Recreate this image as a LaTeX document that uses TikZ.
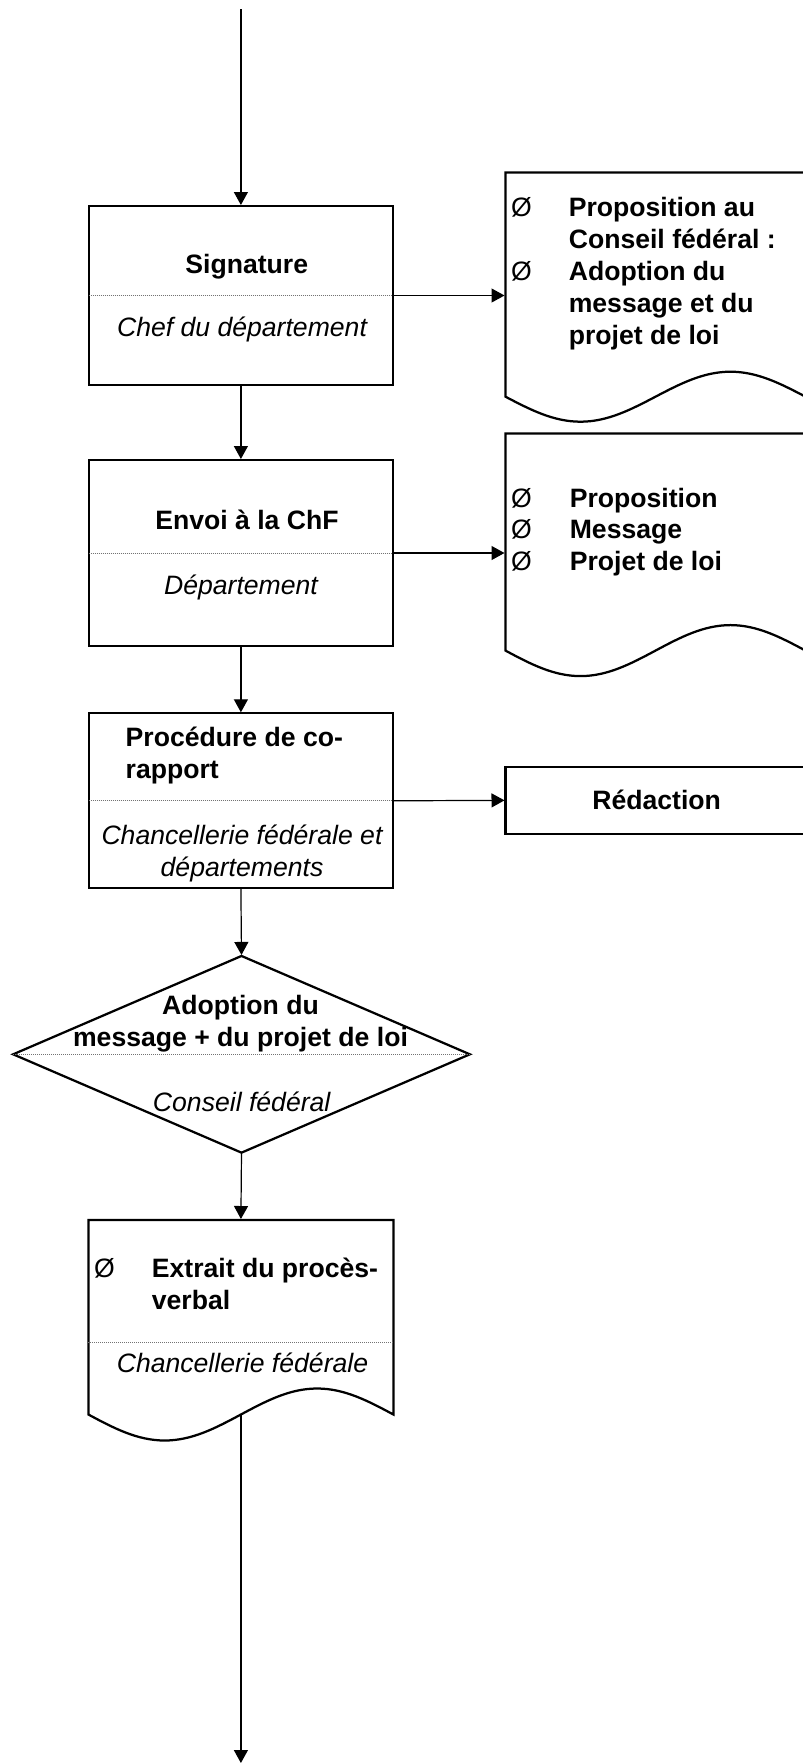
\documentclass[tikz,border=0pt]{standalone}
\usepackage{fontspec}
\setmainfont{Liberation Sans}
\usetikzlibrary{arrows.meta,shapes.geometric}

\begin{document}
\begin{tikzpicture}[x=1pt,y=-1pt,
  every node/.style={inner sep=0pt},
  box/.style={draw, line width=2.25pt, rectangle, outer sep=0pt},
  area/.style={rectangle, outer sep=0pt, minimum width=300pt},
  outline/.style={line width=2.25pt, line join=miter},
  conn/.style={line width=1.2pt, -{Triangle[length=13pt,width=14pt]}, shorten >=1pt},
  divline/.style={line width=0.8pt, black!55, dash pattern=on 1pt off 1pt},
  title/.style={font=\fontsize{26.6}{31.7}\selectfont\bfseries, anchor=base},
  who/.style={font=\fontsize{26.6}{31.7}\selectfont\itshape, anchor=base},
  bullets/.style={font=\fontsize{26.6}{31.7}\selectfont, anchor=base west},
]
\useasboundingbox (0,0) rectangle (803,1764);
\fill[white] (0,0) rectangle (803,1764);
\clip (0,0) rectangle (803,1764);

% free ends of the main flow line
\coordinate (top) at (240.9,9);
\coordinate (bottom) at (240.9,1764);

% --- Signature ---
\node[box, minimum width=304.4pt, minimum height=179pt] (sig) at (240.9,295.5) {};
\draw[divline] (sig.west) -- (sig.east);
\node[title] (sigt) at (246.7,273) {Signature};
\node[who] (sigw) at (242,336.7) {Chef du département};

% --- Envoi ---
\node[box, minimum width=304.4pt, minimum height=186pt] (env) at (240.9,553) {};
\draw[divline] (env.west) -- (env.east);
\node[title] (envt) at (247,529.5) {Envoi à la ChF};
\node[who] (envw) at (241,594.5) {Département};

% --- Procédure de co-rapport ---
\node[box, minimum width=304.4pt, minimum height=175pt] (proc) at (240.9,800.8) {};
\draw[divline] (proc.west) -- (proc.east);
\node[title, anchor=base west] (proct) at (125.5,746.8)
  {\begin{tabular}[t]{@{}l@{}}Procédure de co-\\rapport\end{tabular}};
\node[who] (procw) at (242,844.5)
  {\begin{tabular}[t]{@{}c@{}}Chancellerie fédérale et\\départements\end{tabular}};

% --- Decision ---
\node[diamond, draw, line width=2.25pt, minimum width=456.7pt, minimum height=196.7pt,
      outer sep=0pt] (dec) at (241.5,1054.3) {};
\draw[divline] (dec.west) -- (dec.east);
\node[title] (dect) at (240.5,1014.5)
  {\begin{tabular}[t]{@{}c@{}}Adoption du\\message + du projet de loi\end{tabular}};
\node[who] (decw) at (241.7,1111) {Conseil fédéral};

% --- Extrait du procès-verbal (document) ---
\node[area, minimum width=305pt, minimum height=194.5pt] (ext) at (240.9,1317.25) {};
\draw[outline] (ext.south west) -- (ext.north west) -- (ext.north east) -- (ext.south east)
  sin ++(-76.25,-26) cos ++(-76.25,26) sin ++(-76.25,26) cos ++(-76.25,-26) -- cycle;
\coordinate (extdiv) at (0,1342.3);
\draw[divline] (ext.west |- extdiv) -- (ext.east |- extdiv);
\node[bullets] (extb) at (94,1277.8)
  {\begin{tabular}[t]{@{}l@{}}\makebox[57.7pt][l]{Ø}\textbf{Extrait du procès-}\\
   \hspace*{57.7pt}\textbf{verbal}\end{tabular}};
\node[who] (extw) at (242.5,1372.8) {Chancellerie fédérale};

% --- Document: proposition au Conseil fédéral ---
\node[area, minimum height=224.2pt] (d1) at (655.5,284.6) {};
\draw[outline] (d1.south west) -- (d1.north west) -- (d1.north east) -- (d1.south east)
  sin ++(-75,-25) cos ++(-75,25) sin ++(-75,25) cos ++(-75,-25) -- cycle;
\node[bullets, font=\fontsize{26.6}{31.9}\selectfont] (d1t) at (511,216.5)
  {\begin{tabular}[t]{@{}l@{}}\makebox[57.6pt][l]{Ø}\textbf{Proposition au}\\
   \hspace*{57.6pt}\textbf{Conseil fédéral :}\\
   \makebox[57.6pt][l]{Ø}\textbf{Adoption du}\\
   \hspace*{57.6pt}\textbf{message et du}\\
   \hspace*{57.6pt}\textbf{projet de loi}\end{tabular}};

% --- Document: pièces envoyées ---
\node[area, minimum height=217.1pt] (d2) at (655.5,542.05) {};
\draw[outline] (d2.south west) -- (d2.north west) -- (d2.north east) -- (d2.south east)
  sin ++(-75,-25.5) cos ++(-75,25.5) sin ++(-75,25.5) cos ++(-75,-25.5) -- cycle;
\node[bullets, font=\fontsize{26.6}{31.3}\selectfont] (d2t) at (511,507.5)
  {\begin{tabular}[t]{@{}l@{}}\makebox[58.6pt][l]{Ø}\textbf{Proposition}\\
   \makebox[58.6pt][l]{Ø}\textbf{Message}\\
   \makebox[58.6pt][l]{Ø}\textbf{Projet de loi}\end{tabular}};

% --- Rédaction ---
\node[box, minimum width=302.5pt, minimum height=67.3pt] (red) at (656.75,800.35) {};
\node[title] (redt) at (656.7,809.5) {Rédaction};

% --- connectors ---
\draw[conn] (top) -- (sig.north);
\draw[conn] (sig.south) -- (env.north);
\draw[conn] (env.south) -- (proc.north);
\draw[conn] (proc.south) -- (dec.north);
\draw[conn] (dec.south) -- (ext.north);
\draw[conn] (ext.south) -- (bottom);
\draw[conn] (sig.east) -- (sig.east -| d1.west);
\draw[conn] (env.east) -- (env.east -| d2.west);
\draw[conn] (proc.east) -- (red.west);
\end{tikzpicture}
\end{document}
